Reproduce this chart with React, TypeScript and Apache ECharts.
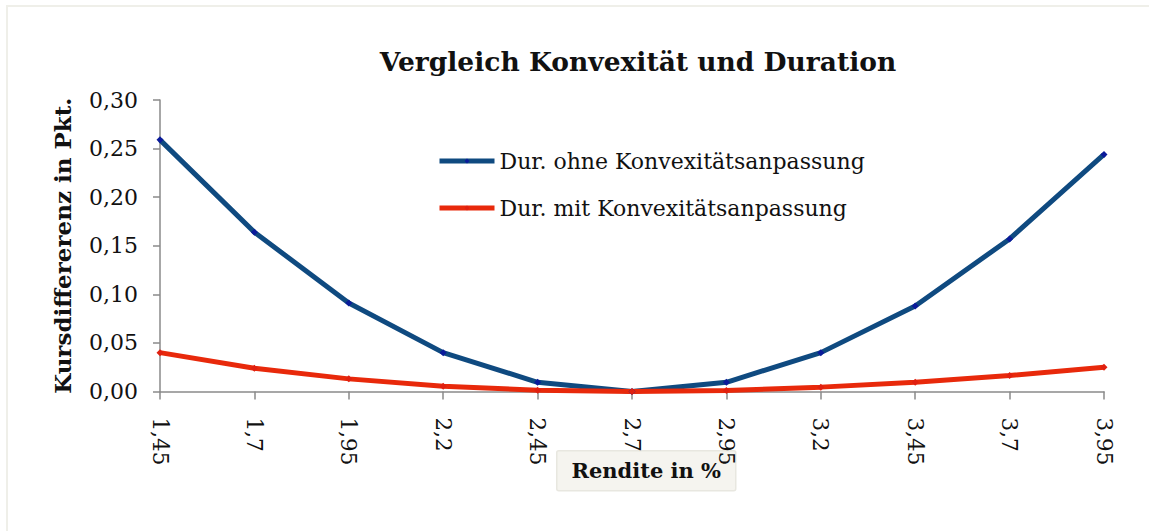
import React, { useEffect, useRef } from "react";
import * as echarts from "echarts";

const categories = ["1,45", "1,7", "1,95", "2,2", "2,45", "2,7", "2,95", "3,2", "3,45", "3,7", "3,95"];
const ohneKonvexitaet = [0.259, 0.164, 0.091, 0.040, 0.0095, 0, 0.0095, 0.040, 0.088, 0.157, 0.244];
const mitKonvexitaet = [0.040, 0.024, 0.013, 0.0055, 0.0012, 0, 0.001, 0.0045, 0.0095, 0.0165, 0.025];
const seriesNames = ["Dur. ohne Konvexitätsanpassung", "Dur. mit Konvexitätsanpassung"];

const FONT = "'DejaVu Serif', 'Liberation Serif', serif";

export default function App() {
  const ref = useRef<HTMLDivElement>(null);
  useEffect(() => {
    if (!ref.current) return;
    const chart = echarts.init(ref.current, undefined, { renderer: "svg" });
    chart.setOption({
      animation: false,
      backgroundColor: "#ffffff",
      textStyle: { fontFamily: FONT },
      title: {
        text: "Vergleich Konvexität und Duration",
        left: 633,
        top: 43,
        textAlign: "center",
        textStyle: { fontFamily: FONT, fontWeight: "bold", fontSize: 26.5, color: "#111" },
      },
      legend: {
        orient: "vertical",
        left: 437,
        top: 150,
        padding: 0,
        itemWidth: 55,
        itemHeight: 6,
        itemGap: 25,
        lineStyle: { width: 5 },
        textStyle: { fontFamily: FONT, fontSize: 22, color: "#111" },
        data: seriesNames,
      },
      grid: { left: 160, right: 45, top: 100, bottom: 139.5, containLabel: false },
      xAxis: {
        type: "category",
        data: categories,
        boundaryGap: false,
        axisLine: { lineStyle: { color: "#8a8a8a", width: 1.5 } },
        axisTick: { show: true, alignWithLabel: true, length: 8, lineStyle: { color: "#8a8a8a", width: 1.5 } },
        axisLabel: { rotate: -90, margin: 26, fontFamily: FONT, fontSize: 21.5, color: "#111" },
        splitLine: { show: false },
      },
      yAxis: {
        type: "value",
        min: 0,
        max: 0.3,
        interval: 0.05,
        name: "Kursdiffererenz in Pkt.",
        nameLocation: "middle",
        nameRotate: 90,
        nameGap: 86,
        nameTextStyle: { fontFamily: FONT, fontWeight: "bold", fontSize: 23, color: "#111" },
        axisLine: { show: true, lineStyle: { color: "#8a8a8a", width: 1.5 } },
        axisTick: { show: true, length: 7, lineStyle: { color: "#8a8a8a", width: 1.5 } },
        axisLabel: {
          margin: 22,
          fontFamily: FONT,
          fontSize: 22,
          color: "#111",
          formatter: (v: number) => v.toFixed(2).replace(".", ","),
        },
        splitLine: { show: false },
      },
      series: [
        {
          name: seriesNames[0],
          type: "line",
          data: ohneKonvexitaet,
          symbol: "diamond",
          symbolSize: 7,
          showSymbol: true,
          lineStyle: { color: "#0f4a80", width: 5 },
          itemStyle: { color: "#0a1a9a" },
        },
        {
          name: seriesNames[1],
          type: "line",
          data: mitKonvexitaet,
          symbol: "diamond",
          symbolSize: 7,
          showSymbol: true,
          lineStyle: { color: "#e8290b", width: 5 },
          itemStyle: { color: "#e02010" },
        },
      ],
      graphic: [
        {
          type: "polyline",
          silent: true,
          shape: { points: [[7, 531], [7, 6], [1149, 6]] },
          style: { stroke: "#efefe9", lineWidth: 2, fill: null },
        },
        {
          type: "group",
          left: 556,
          top: 450,
          children: [
            {
              type: "rect",
              shape: { x: 0, y: 0, width: 179, height: 40, r: 2 },
              style: { fill: "#f5f4ef", stroke: "#e8e7e0", lineWidth: 1.5 },
            },
            {
              type: "text",
              x: 89.5,
              y: 20,
              style: {
                text: "Rendite in %",
                fontFamily: FONT,
                fontWeight: "bold",
                fontSize: 21,
                fill: "#111",
                align: "center",
                verticalAlign: "middle",
              },
            },
          ],
        },
      ],
    });
    return () => chart.dispose();
  }, []);
  return (
    <div
      ref={ref}
      style={{ position: "fixed", left: 0, top: 0, width: 1149, height: 531, background: "#fff" }}
    />
  );
}
